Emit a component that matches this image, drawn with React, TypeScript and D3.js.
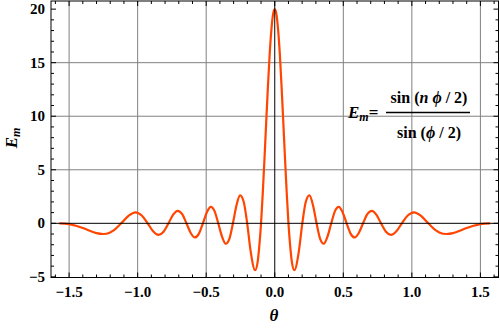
import * as d3 from "d3";

// sampled read-off of the curve (theta, E_m)
const theta = [
  -1.571, -1.5, -1.45, -1.4, -1.35, -1.3, -1.253, -1.2, -1.181, -1.12, -1.065, -1.016, -0.97, -0.927,
  -0.887, -0.848, -0.811, -0.775, -0.741, -0.708, -0.675, -0.644, -0.613, -0.582, -0.553, -0.524,
  -0.495, -0.467, -0.439, -0.412, -0.384, -0.358, -0.331, -0.305, -0.279, -0.253, -0.227, -0.201,
  -0.176, -0.143, -0.125, -0.113, -0.1, -0.0875, -0.075, -0.0625, -0.05, -0.0375, -0.025, -0.0125,
  0,
  0.0125, 0.025, 0.0375, 0.05, 0.0625, 0.075, 0.0875, 0.1, 0.113, 0.125, 0.143, 0.176, 0.201, 0.227,
  0.253, 0.279, 0.305, 0.331, 0.358, 0.384, 0.412, 0.439, 0.467, 0.495, 0.524, 0.553, 0.582, 0.613,
  0.644, 0.675, 0.708, 0.741, 0.775, 0.811, 0.848, 0.887, 0.927, 0.97, 1.016, 1.065, 1.12, 1.181,
  1.2, 1.253, 1.3, 1.35, 1.4, 1.45, 1.5, 1.571,
];
const em = [
  0, -0.08, -0.23, -0.44, -0.69, -0.92, -1.0, -0.85, -0.71, 0, 0.72, 1.03, 0.73, 0,
  -0.75, -1.08, -0.78, 0, 0.81, 1.17, 0.85, 0, -0.9, -1.32, -0.96, 0,
  1.04, 1.54, 1.14, 0, -1.27, -1.91, -1.45, 0, 1.69, 2.61, 2.04, 0,
  -2.6, -4.38, -3.62, -2.18, 0, 2.8, 6.0, 9.4, 12.7, 15.7, 18.0, 19.5,
  20,
  19.5, 18.0, 15.7, 12.7, 9.4, 6.0, 2.8, 0, -2.18, -3.62, -4.38, -2.6, 0, 2.04,
  2.61, 1.69, 0, -1.45, -1.91, -1.27, 0, 1.14, 1.54, 1.04, 0, -0.96, -1.32, -0.9,
  0, 0.85, 1.17, 0.81, 0, -0.78, -1.08, -0.75, 0, 0.73, 1.03, 0.72, 0, -0.71,
  -0.85, -1.0, -0.92, -0.69, -0.44, -0.23, -0.08, 0,
];

const xMajor = [-1.5, -1.0, -0.5, 0, 0.5, 1.0, 1.5];
const xLabels = ["\u22121.5", "\u22121.0", "\u22120.5", "0.0", "0.5", "1.0", "1.5"];
const yMajor = [-5, 0, 5, 10, 15, 20];
const yLabels = ["\u22125", "0", "5", "10", "15", "20"];
const xGrid = [-1.5, -1.0, -0.5, 0.5, 1.0, 1.5];
const yGrid = [5, 10, 15];

const W = 500;
const H = 328;
const left = 51;
const right = 498.5;
const top = 1;
const bottom = 277.5;

const font = "'Liberation Serif', 'Times New Roman', serif";

export default function App() {
  const x = d3.scaleLinear().domain([-1.632, 1.632]).range([left, right]);
  const y = d3.scaleLinear().domain([-5.06, 20.76]).range([bottom, top]);

  const pts = theta.map((t, i) => [t, em[i]] as [number, number]);
  const line = d3
    .line<[number, number]>()
    .x((d) => x(d[0]))
    .y((d) => y(d[1]))
    .curve(d3.curveMonotoneX);

  const xMinor = d3.range(-16, 17).map((k) => k / 10).filter((v) => Math.abs(v * 2 - Math.round(v * 2)) > 1e-6);
  const yMinor = d3.range(-5, 21).filter((v) => v % 5 !== 0);

  return (
    <svg width={W} height={H} style={{ position: "absolute", left: 0, top: 0, background: "#fff" }}>
      {/* grid */}
      {xGrid.map((v) => (
        <line key={"gx" + v} x1={x(v)} x2={x(v)} y1={top} y2={bottom} stroke="#808080" strokeWidth={1} />
      ))}
      {yGrid.map((v) => (
        <line key={"gy" + v} x1={left} x2={right} y1={y(v)} y2={y(v)} stroke="#808080" strokeWidth={1} />
      ))}

      {/* curve */}
      <path d={line(pts) ?? ""} fill="none" stroke="#ff4500" strokeWidth={2.2} strokeLinejoin="round" />

      {/* axes through origin */}
      <line x1={x(0)} x2={x(0)} y1={top} y2={bottom} stroke="#000" strokeWidth={1} />
      <line x1={left} x2={right} y1={y(0)} y2={y(0)} stroke="#000" strokeWidth={1} />

      {/* frame */}
      <rect x={left} y={top} width={right - left} height={bottom - top} fill="none" stroke="#000" strokeWidth={1} />

      {/* ticks */}
      {xMajor.map((v) => (
        <g key={"xt" + v}>
          <line x1={x(v)} x2={x(v)} y1={bottom} y2={bottom - 5} stroke="#000" />
          <line x1={x(v)} x2={x(v)} y1={top} y2={top + 5} stroke="#000" />
        </g>
      ))}
      {xMinor.map((v) => (
        <g key={"xm" + v}>
          <line x1={x(v)} x2={x(v)} y1={bottom} y2={bottom - 3} stroke="#000" />
          <line x1={x(v)} x2={x(v)} y1={top} y2={top + 3} stroke="#000" />
        </g>
      ))}
      {yMajor.map((v) => (
        <g key={"yt" + v}>
          <line x1={left} x2={left + 5} y1={y(v)} y2={y(v)} stroke="#000" />
          <line x1={right} x2={right - 5} y1={y(v)} y2={y(v)} stroke="#000" />
        </g>
      ))}
      {yMinor.map((v) => (
        <g key={"ym" + v}>
          <line x1={left} x2={left + 3} y1={y(v)} y2={y(v)} stroke="#000" />
          <line x1={right} x2={right - 3} y1={y(v)} y2={y(v)} stroke="#000" />
        </g>
      ))}

      {/* tick labels */}
      {xMajor.map((v, i) => (
        <text key={"xl" + v} x={x(v)} y={297} textAnchor="middle" fontFamily={font} fontWeight="bold" fontSize={15}>
          {xLabels[i]}
        </text>
      ))}
      {yMajor.map((v, i) => (
        <text key={"yl" + v} x={45} y={y(v) + 5} textAnchor="end" fontFamily={font} fontWeight="bold" fontSize={15}>
          {yLabels[i]}
        </text>
      ))}

      {/* axis labels */}
      <text x={274} y={321} textAnchor="middle" fontFamily={font} fontWeight="bold" fontStyle="italic" fontSize={17}>
        θ
      </text>
      <text transform="translate(17,138) rotate(-90)" textAnchor="middle" fontFamily={font} fontWeight="bold" fontStyle="italic" fontSize={17}>
        E<tspan fontSize={12} dy={3}>m</tspan>
      </text>

      {/* formula */}
      <text x={348} y={118} fontFamily={font} fontWeight="bold" fontSize={17}>
        <tspan fontStyle="italic">E</tspan>
        <tspan fontStyle="italic" fontSize={12} dy={3}>m</tspan>
        <tspan dy={-3}>=</tspan>
      </text>
      <line x1={386} x2={470} y1={112.5} y2={112.5} stroke="#000" strokeWidth={1.5} />
      <text x={429} y={103} textAnchor="middle" fontFamily={font} fontWeight="bold" fontSize={16}>
        sin (<tspan fontStyle="italic">n ϕ</tspan> / 2)
      </text>
      <text x={429} y={138} textAnchor="middle" fontFamily={font} fontWeight="bold" fontSize={16}>
        sin (<tspan fontStyle="italic">ϕ</tspan> / 2)
      </text>
    </svg>
  );
}
